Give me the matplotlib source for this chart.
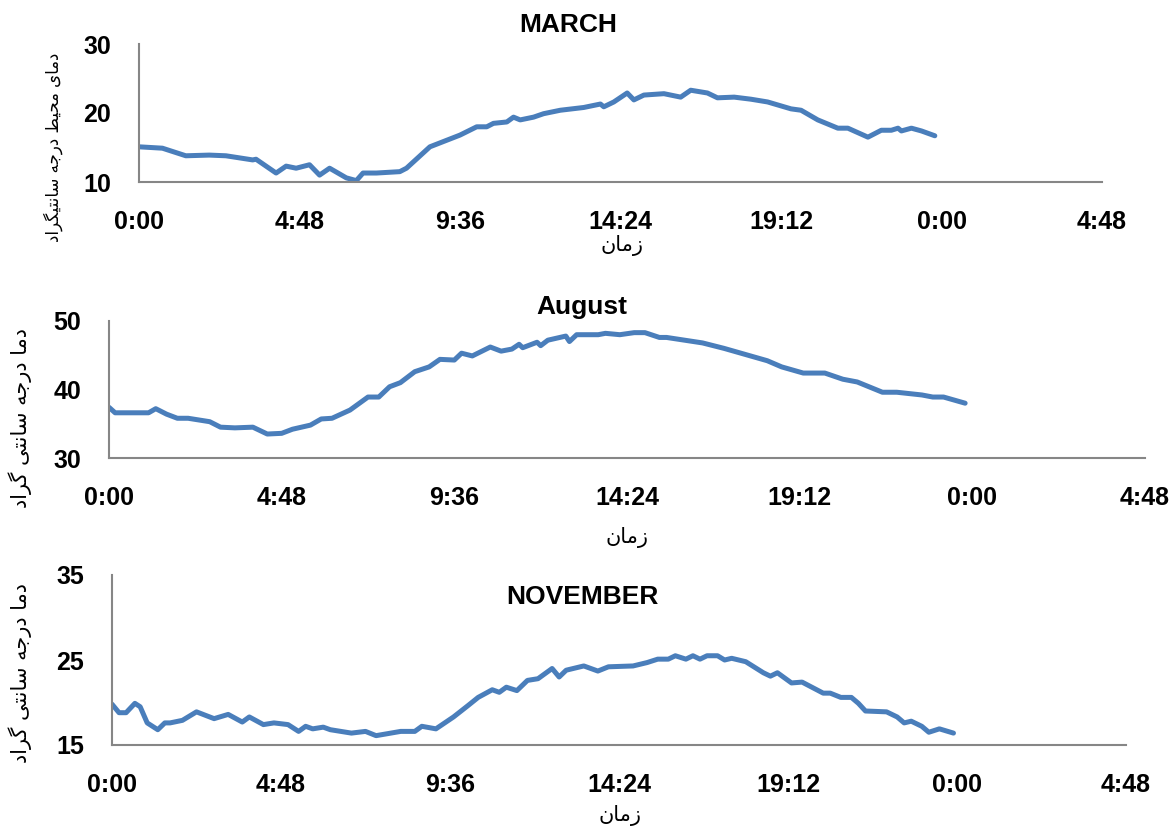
import matplotlib
matplotlib.use("Agg")
import matplotlib.pyplot as plt
import numpy as np

W, H = 1173, 832
LINE = "#4A7EBB"
SPINE = "#868686"
LATIN = ["Liberation Sans Narrow", "Liberation Sans", "DejaVu Sans"]

# ---- data (hours since midnight, temperature in C) ----
march_hours = [0.0, 0.7, 1.4, 2.1, 2.6, 3.4, 3.5, 4.1, 4.4, 4.7, 5.1, 5.4, 5.7, 6.2, 6.5,
               6.7, 7.1, 7.8, 8.0, 8.7, 9.6, 10.1, 10.4, 10.6, 11.0, 11.2, 11.4, 11.8,
               12.1, 12.6, 13.3, 13.8, 13.9, 14.2, 14.6, 14.8, 15.1, 15.7, 16.2, 16.5,
               17.0, 17.3, 17.8, 18.3, 18.8, 19.5, 19.8, 20.3, 20.9, 21.2, 21.8, 22.2,
               22.5, 22.7, 22.8, 23.1, 23.4, 23.8]
march_temp = [15.1, 14.9, 13.8, 13.9, 13.8, 13.2, 13.3, 11.3, 12.3, 12.0, 12.5, 11.0, 12.0,
              10.6, 10.2, 11.3, 11.3, 11.5, 12.0, 15.1, 16.8, 18.0, 18.0, 18.5, 18.7, 19.4,
              19.0, 19.4, 19.9, 20.4, 20.8, 21.3, 20.9, 21.6, 22.9, 21.9, 22.6, 22.8, 22.3,
              23.3, 22.9, 22.2, 22.3, 22.0, 21.6, 20.6, 20.4, 19.0, 17.8, 17.8, 16.5, 17.5,
              17.5, 17.8, 17.4, 17.8, 17.4, 16.7]

august_hours = [0.0, 0.17, 0.7, 1.1, 1.3, 1.6, 1.9, 2.2, 2.8, 3.1, 3.5, 4.0, 4.4, 4.8, 5.1,
                5.6, 5.9, 6.2, 6.7, 7.2, 7.5, 7.8, 8.1, 8.5, 8.9, 9.2, 9.6, 9.8, 10.1, 10.6,
                10.9, 11.2, 11.4, 11.5, 11.9, 12.0, 12.2, 12.7, 12.8, 13.0, 13.6, 13.8, 14.2,
                14.6, 14.9, 15.3, 15.5, 16.5, 17.1, 17.9, 18.3, 18.7, 19.3, 19.9, 20.4, 20.8,
                21.5, 21.9, 22.6, 22.9, 23.2, 23.8]
august_temp = [37.4, 36.6, 36.6, 36.6, 37.2, 36.4, 35.8, 35.8, 35.3, 34.5, 34.4, 34.5, 33.5,
               33.6, 34.2, 34.8, 35.7, 35.8, 37.0, 38.9, 38.9, 40.4, 41.0, 42.6, 43.3, 44.4,
               44.3, 45.3, 44.9, 46.2, 45.6, 45.9, 46.6, 46.1, 46.9, 46.4, 47.2, 47.8, 47.0,
               48.0, 48.0, 48.2, 48.0, 48.3, 48.3, 47.6, 47.6, 46.8, 46.0, 44.8, 44.2, 43.3,
               42.4, 42.4, 41.5, 41.1, 39.6, 39.6, 39.2, 38.9, 38.9, 38.0]

november_hours = [0.0, 0.2, 0.4, 0.65, 0.8, 1.0, 1.3, 1.5, 1.65, 2.0, 2.4, 2.9, 3.3, 3.7, 3.9,
                  4.3, 4.6, 5.0, 5.3, 5.5, 5.7, 6.0, 6.2, 6.8, 7.2, 7.5, 8.2, 8.6, 8.8, 9.2,
                  9.7, 10.1, 10.4, 10.8, 11.0, 11.2, 11.5, 11.8, 12.1, 12.5, 12.7, 12.9, 13.4,
                  13.8, 14.1, 14.8, 15.2, 15.5, 15.8, 16.0, 16.3, 16.5, 16.7, 16.9, 17.2, 17.4,
                  17.6, 18.0, 18.5, 18.7, 18.9, 19.3, 19.6, 20.2, 20.4, 20.7, 21.0, 21.2, 21.4,
                  22.0, 22.3, 22.5, 22.7, 23.0, 23.2, 23.5, 23.9]
november_temp = [19.8, 18.8, 18.8, 19.9, 19.5, 17.6, 16.8, 17.6, 17.6, 17.9, 18.9, 18.1, 18.6,
                 17.7, 18.3, 17.4, 17.6, 17.4, 16.6, 17.2, 16.9, 17.1, 16.8, 16.4, 16.6, 16.1,
                 16.6, 16.6, 17.2, 16.9, 18.3, 19.6, 20.6, 21.5, 21.2, 21.8, 21.4, 22.6, 22.8,
                 24.0, 23.0, 23.8, 24.3, 23.7, 24.2, 24.3, 24.7, 25.1, 25.1, 25.5, 25.1, 25.5,
                 25.1, 25.5, 25.5, 25.0, 25.2, 24.8, 23.5, 23.1, 23.5, 22.3, 22.4, 21.1, 21.1,
                 20.6, 20.6, 19.9, 19.0, 18.9, 18.3, 17.6, 17.8, 17.2, 16.5, 16.9, 16.4]

x_ticks = [0, 4.8, 9.6, 14.4, 19.2, 24.0, 28.8]
x_tick_labels = ["0:00", "4:48", "9:36", "14:24", "19:12", "0:00", "4:48"]

titles = ["MARCH", "August", "NOVEMBER"]
y_ticks = [[10, 20, 30], [30, 40, 50], [15, 25, 35]]
x_label = "زمان"
y_labels = ["دمای محیط درجه سانتیگراد", "دما درجه سانتی گراد", "دما درجه سانتی گراد"]

# Persian presentation forms: isolated, final, initial, medial
FORMS = {
    "ا": ("\uFE8D", "\uFE8E", None, None),
    "د": ("\uFEA9", "\uFEAA", None, None),
    "ر": ("\uFEAD", "\uFEAE", None, None),
    "ز": ("\uFEAF", "\uFEB0", None, None),
    "م": ("\uFEE1", "\uFEE2", "\uFEE3", "\uFEE4"),
    "ن": ("\uFEE5", "\uFEE6", "\uFEE7", "\uFEE8"),
    "ح": ("\uFEA1", "\uFEA2", "\uFEA3", "\uFEA4"),
    "ط": ("\uFEC1", "\uFEC2", "\uFEC3", "\uFEC4"),
    "ج": ("\uFE9D", "\uFE9E", "\uFE9F", "\uFEA0"),
    "ه": ("\uFEE9", "\uFEEA", "\uFEEB", "\uFEEC"),
    "س": ("\uFEB1", "\uFEB2", "\uFEB3", "\uFEB4"),
    "ت": ("\uFE95", "\uFE96", "\uFE97", "\uFE98"),
    "ی": ("\uFEEF", "\uFEF0", "\uFEF3", "\uFEF4"),
    "گ": ("\uFB92", "\uFB93", "\uFB94", "\uFB95"),
}


def shape(s):
    out = []
    for i, ch in enumerate(s):
        f = FORMS.get(ch)
        if f is None:
            out.append(ch)
            continue
        prev = s[i - 1] if i > 0 else ""
        nxt = s[i + 1] if i + 1 < len(s) else ""
        jp = prev in FORMS and FORMS[prev][2] is not None
        jn = f[2] is not None and nxt in FORMS
        out.append(f[3] if (jp and jn) else f[1] if jp else f[2] if jn else f[0])
    return "".join(reversed(out))


def fx(px):
    return px / W


def fy(py):
    return 1 - py / H


# axes boxes in pixels: left, top, right, bottom
boxes = [(139, 44, 1102, 182), (109, 321, 1145, 458), (112, 575, 1126, 745)]
title_pos = [(568, 25), (582, 307), (582, 597)]
xlabel_pos = [(622, 245), (627, 538), (620, 815)]
ylabel_pos = [(53, 147, 12), (20, 418, 15), (20, 673, 15)]
series = [(march_hours, march_temp), (august_hours, august_temp),
          (november_hours, november_temp)]

fig = plt.figure(figsize=(W / 100, H / 100), dpi=100)
for i, (l, t, r, b) in enumerate(boxes):
    ax = fig.add_axes([fx(l), fy(b), fx(r) - fx(l), fy(t) - fy(b)])
    hrs, temp = series[i]
    ax.plot(hrs, temp, color=LINE, lw=3.6, solid_capstyle="round", solid_joinstyle="round")
    ax.set_xlim(0, 28.8)
    ax.set_ylim(y_ticks[i][0], y_ticks[i][-1])
    ax.set_xticks(x_ticks)
    ax.set_xticklabels(x_tick_labels)
    ax.set_yticks(y_ticks[i])
    for sp in ("top", "right"):
        ax.spines[sp].set_visible(False)
    for sp in ("left", "bottom"):
        ax.spines[sp].set_color(SPINE)
        ax.spines[sp].set_linewidth(1.5)
    ax.tick_params(length=0, labelsize=18)
    ax.tick_params(axis="x", pad=20)
    ax.tick_params(axis="y", pad=20)
    for lab in ax.get_xticklabels() + ax.get_yticklabels():
        lab.set_family(LATIN)
        lab.set_fontweight("bold")
    ax.patch.set_alpha(0)

    tx, ty = title_pos[i]
    fig.text(fx(tx), fy(ty), titles[i], ha="center", va="center", fontsize=19,
             fontweight="bold", family=LATIN)
    xx, xy = xlabel_pos[i]
    fig.text(fx(xx), fy(xy), shape(x_label), ha="center", va="center", fontsize=15,
             family="DejaVu Sans")
    yx, yy, ys = ylabel_pos[i]
    fig.text(fx(yx), fy(yy), shape(y_labels[i]), ha="center", va="center", fontsize=ys,
             rotation=90, family="DejaVu Sans")

fig.savefig("out.png", dpi=100, facecolor="white")
